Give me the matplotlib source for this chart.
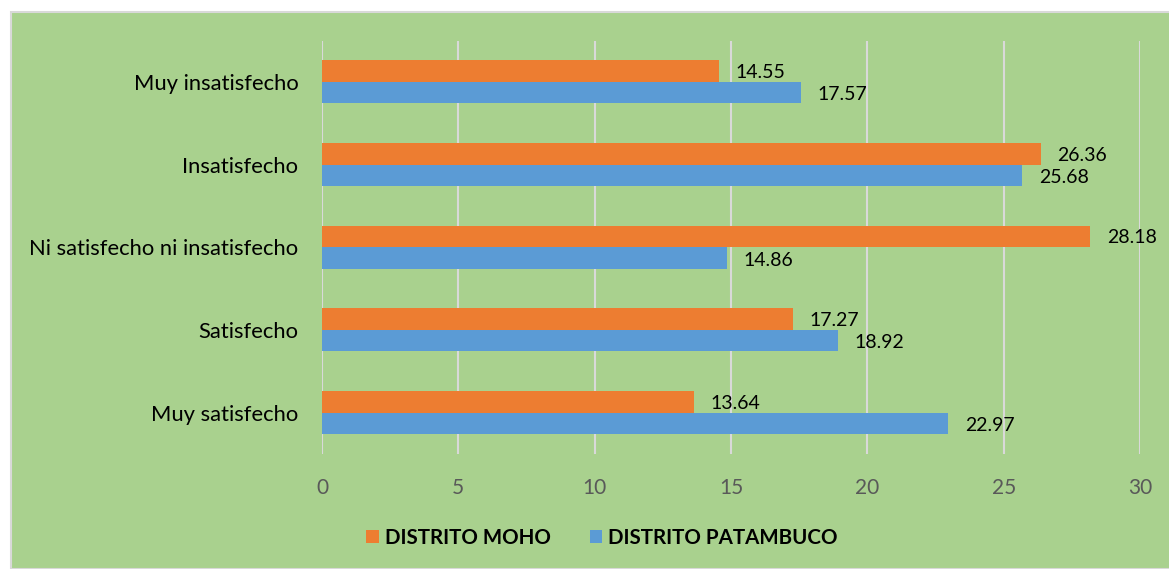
import matplotlib.pyplot as plt
from matplotlib.patches import Rectangle

categories = ['Muy satisfecho', 'Satisfecho', 'Ni satisfecho ni insatisfecho',
              'Insatisfecho', 'Muy insatisfecho']
moho = [13.64, 17.27, 28.18, 26.36, 14.55]
patambuco = [22.97, 18.92, 14.86, 25.68, 17.57]
series_names = ['DISTRITO MOHO', 'DISTRITO PATAMBUCO']
xticks = [0, 5, 10, 15, 20, 25, 30]

plt.rcParams['font.family'] = ['Lato', 'DejaVu Sans']

W, H = 1169, 569
fig = plt.figure(figsize=(W / 100, H / 100), dpi=100)
fig.patch.set_facecolor('white')

# green chart area with thin border
bg = Rectangle((11 / W, 0), 1, (H - 12) / H, transform=fig.transFigure,
               facecolor='#A9D18E', edgecolor='#D9D9D9', linewidth=1.5, zorder=-5)
fig.patches.append(bg)

ax = fig.add_axes([322 / W, (H - 454) / H, (1140 - 322) / W, (454 - 40.5) / H])
ax.set_facecolor('none')

bh = 0.26
y = list(range(len(categories)))
orange, blue = '#ED7D31', '#5B9BD5'
ax.barh([v + bh / 2 for v in y], moho, height=bh, color=orange, label=series_names[0], zorder=3)
ax.barh([v - bh / 2 for v in y], patambuco, height=bh, color=blue, label=series_names[1], zorder=3)

for i in y:
    ax.annotate(f'{moho[i]:.2f}', (moho[i], i + bh / 2), xytext=(12, -1),
                textcoords='offset points', va='center', ha='left', fontsize=14,
                color='black', zorder=4)
    ax.annotate(f'{patambuco[i]:.2f}', (patambuco[i], i - bh / 2), xytext=(12, -1.5),
                textcoords='offset points', va='center', ha='left', fontsize=14,
                color='black', zorder=4)

ax.set_xlim(0, 30)
ax.set_ylim(-0.5, len(categories) - 0.5)
ax.set_xticks(xticks)
ax.set_xticklabels([str(t) for t in xticks], fontsize=15, color='#595959')
ax.set_yticks(y)
ax.set_yticklabels(categories, fontsize=15.8, color='black')
ax.tick_params(axis='both', length=0)
ax.tick_params(axis='x', pad=17)
ax.tick_params(axis='y', pad=17)
ax.grid(axis='x', color='#D9D9D9', linewidth=1.5, zorder=0)
for s in ax.spines.values():
    s.set_visible(False)

leg = fig.legend(loc='center', bbox_to_anchor=(602 / W, (H - 538) / H), ncol=2,
                 frameon=False, handlelength=0.6, handleheight=0.6, handletextpad=0.3,
                 columnspacing=1.9, prop={'weight': 'bold', 'size': 14.8})

fig.savefig('out.png', dpi=100, facecolor=fig.get_facecolor())
